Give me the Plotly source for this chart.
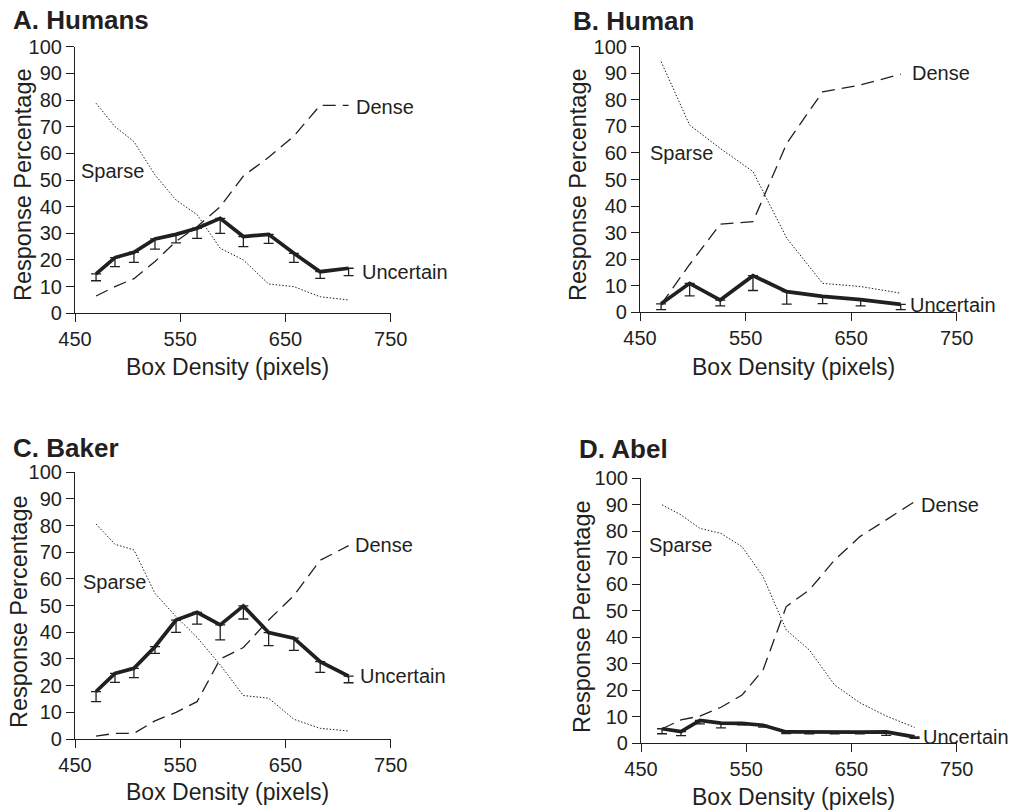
import plotly.graph_objects as go

# ---------------- data ----------------
x_A = [470, 488, 506, 526, 546, 566, 588, 610, 634, 658, 683, 710]
sparse_A = [78.8, 70, 64.4, 51.9, 42.5, 37, 24.4, 20, 11, 10, 6.2, 5]
dense_A = [6.5, 10, 13, 19.4, 27, 32.5, 40, 51.5, 58.5, 66.5, 78, 78]
unc_A = [14.8, 20.9, 22.9, 27.9, 29.6, 31.9, 35.6, 28.8, 29.6, 22.5, 15.6, 16.9]
err_A = [2.6, 3.4, 3.8, 3.8, 3.2, 3.8, 5.6, 3.8, 3.4, 3.4, 2.5, 2.8]

x_B = [470, 497, 526, 557, 589, 623, 659, 697]
sparse_B = [94.4, 70.5, 61.7, 53, 27.9, 10.9, 9.7, 7.2]
dense_B = [3, 18, 33.2, 34.1, 63.6, 83, 85.6, 89.7]
unc_B = [3.2, 10.9, 4.6, 13.8, 7.8, 6.0, 4.8, 3.0]
err_B = [2.2, 4.7, 2.2, 5.6, 4.7, 2.7, 2.4, 2.0]

x_C = [470, 488, 506, 526, 546, 566, 588, 610, 634, 658, 683, 710]
sparse_C = [80.6, 73, 70.9, 54.6, 45.9, 38.1, 27.8, 16.3, 15.3, 7.4, 4, 3]
dense_C = [1.1, 2.1, 2.1, 6.8, 10, 14, 30, 34.3, 44.6, 53.8, 67, 72.5]
unc_C = [17.8, 24.6, 26.5, 34.6, 44.6, 47.5, 42.8, 49.9, 39.9, 37.8, 29, 23.6]
err_C = [3.8, 3.4, 3.5, 2.5, 4.6, 4.4, 5.6, 4.9, 4.9, 4.6, 4, 2.5]

x_D = [470, 488, 506, 526, 546, 566, 588, 610, 634, 658, 683, 710]
sparse_D = [90, 86.2, 81.1, 79.2, 74.2, 62.9, 42.8, 35.2, 22, 15.3, 10.3, 6]
dense_D = [5.5, 8.8, 10.3, 13.6, 18.2, 27.7, 51.6, 57.9, 69.2, 78, 84.3, 91.2]
unc_D = [5.5, 4.4, 8.6, 7.6, 7.5, 6.8, 4.3, 4.2, 4.2, 4.2, 4.3, 2.4]
err_D = [1.9, 1.5, 1.3, 1.8, 0.5, 0.7, 0.6, 0.6, 0.6, 0.6, 1.3, 0.5]

titles = ["A. Humans", "B. Human", "C. Baker", "D. Abel"]
series_names = ["Sparse", "Dense", "Uncertain"]
x_ticks = [450, 550, 650, 750]
y_ticks = [0, 10, 20, 30, 40, 50, 60, 70, 80, 90, 100]
x_title = "Box Density (pixels)"
y_title = "Response Percentage"

# curve label anchors (data coords): [sparse, dense, uncertain]
label_pos = [
    [(454, 53.4), (715, 77.5), (720.5, 15.6)],
    [(458, 59.8), (705.5, 90), (704, 2.8)],
    [(456, 59), (714.5, 72.8), (719, 23.6)],
    [(456, 74.8), (714.5, 90), (716.5, 2.5)],
]

# ---------------- layout geometry (pixels) ----------------
W, H = 1011, 811
# (left, right, top, bottom) of each plotting area in px
boxes = [
    (75, 390.7, 46.7, 313.3),
    (640, 956.7, 46.7, 312.3),
    (75, 390.7, 472.3, 739),
    (641, 956.7, 478.3, 743.3),
]
title_px = [(11, 20), (571, 21), (11, 448), (577, 449)]
ytitle_px = [(23, 185), (578, 185), (19, 612), (582, 617)]
xtitle_px = [(227, 367), (793, 367), (227.5, 792), (793, 796.5)]

FONT = "Liberation Sans, Arial, Helvetica, sans-serif"
INK = "#231f20"

panels = [
    (x_A, sparse_A, dense_A, unc_A, err_A),
    (x_B, sparse_B, dense_B, unc_B, err_B),
    (x_C, sparse_C, dense_C, unc_C, err_C),
    (x_D, sparse_D, dense_D, unc_D, err_D),
]

fig = go.Figure()
annotations = []
layout_axes = {}

for i, (xs, sp, de, un, er) in enumerate(panels):
    n = i + 1
    xa = "x" if n == 1 else f"x{n}"
    ya = "y" if n == 1 else f"y{n}"
    fig.add_trace(go.Scatter(x=xs, y=sp, mode="lines", xaxis=xa, yaxis=ya,
                             line=dict(color=INK, width=1, dash="1.5px,1.8px"),
                             showlegend=False, name="Sparse"))
    fig.add_trace(go.Scatter(x=xs, y=de, mode="lines", xaxis=xa, yaxis=ya,
                             line=dict(color=INK, width=1.3, dash="13px,7px"),
                             showlegend=False, name="Dense"))
    fig.add_trace(go.Scatter(x=xs, y=un, mode="lines", xaxis=xa, yaxis=ya,
                             line=dict(color=INK, width=3.7),
                             error_y=dict(type="data", symmetric=False,
                                          array=[0] * len(er), arrayminus=er,
                                          color=INK, thickness=1.3, width=5),
                             showlegend=False, name="Uncertain"))

    l, r, t, b = boxes[i]
    xkey = "xaxis" if n == 1 else f"xaxis{n}"
    ykey = "yaxis" if n == 1 else f"yaxis{n}"
    common = dict(showline=True, linecolor=INK, linewidth=1.2, ticks="outside",
                  ticklen=8, tickwidth=1.2, tickcolor=INK, showgrid=False,
                  zeroline=False, automargin=False,
                  tickfont=dict(family=FONT, size=20, color=INK))
    layout_axes[xkey] = dict(common, domain=[l / W, r / W], range=[450, 750],
                             tickvals=x_ticks, anchor=ya)
    layout_axes[ykey] = dict(common, domain=[1 - b / H, 1 - t / H], range=[0, 100],
                             tickvals=y_ticks, anchor=xa)

    # panel title
    tx, ty = title_px[i]
    annotations.append(dict(text=f"<b>{titles[i]}</b>", x=tx / W, y=1 - ty / H,
                            xref="paper", yref="paper", xanchor="left", yanchor="middle",
                            showarrow=False, font=dict(family=FONT, size=26, color=INK)))
    # axis titles
    yx, yy = ytitle_px[i]
    annotations.append(dict(text=y_title, x=yx / W, y=1 - yy / H, xref="paper", yref="paper",
                            xanchor="center", yanchor="middle", textangle=-90,
                            showarrow=False, font=dict(family=FONT, size=23.5, color=INK)))
    xx, xy = xtitle_px[i]
    annotations.append(dict(text=x_title, x=xx / W, y=1 - xy / H, xref="paper", yref="paper",
                            xanchor="center", yanchor="middle",
                            showarrow=False, font=dict(family=FONT, size=23, color=INK)))
    # curve labels
    for name, (lx, ly) in zip(series_names, label_pos[i]):
        annotations.append(dict(text=name, x=lx, y=ly, xref=xa, yref=ya,
                                xanchor="left", yanchor="middle", showarrow=False,
                                font=dict(family=FONT, size=20, color=INK)))

fig.update_layout(
    width=W, height=H,
    margin=dict(l=0, r=0, t=0, b=0, autoexpand=False),
    paper_bgcolor="white", plot_bgcolor="white",
    font=dict(family=FONT, color=INK),
    annotations=annotations,
    **layout_axes,
)

fig.write_html("out.html", config={"displayModeBar": False},
               post_script="document.body.style.margin='0';document.body.style.overflow='hidden';")
